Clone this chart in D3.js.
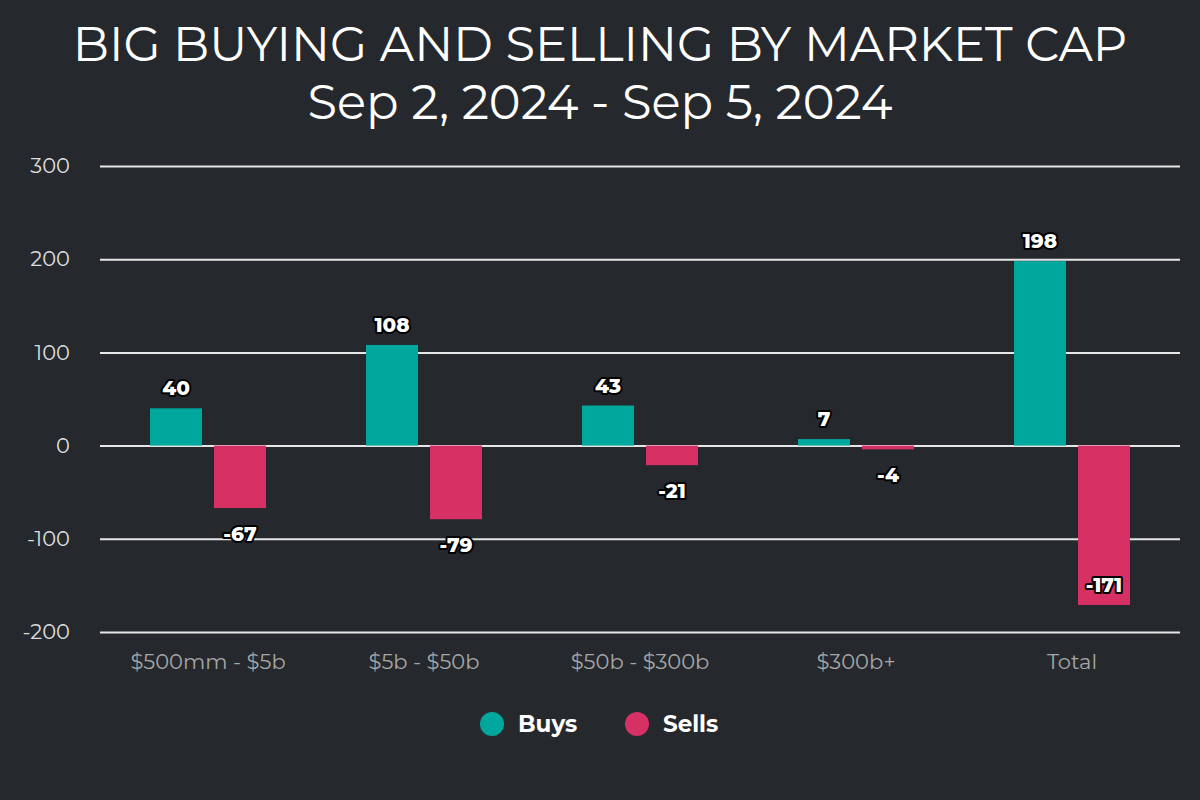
<!DOCTYPE html>
<html><head><meta charset="utf-8">
<script src="https://cdn.jsdelivr.net/npm/d3@7"></script>
<style>
html,body{margin:0;padding:0;background:#25292d;}
svg{display:block;}
</style></head>
<body>
<svg id="chart" width="1200" height="800"></svg>
<script>
const categories = ["$500mm - $5b", "$5b - $50b", "$50b - $300b", "$300b+", "Total"];
const seriesNames = ["Buys", "Sells"];
const buys = [40, 108, 43, 7, 198];
const sells = [-67, -79, -21, -4, -171];
const yTicks = [-200, -100, 0, 100, 200, 300];
const titleLines = ["BIG BUYING AND SELLING BY MARKET CAP", "Sep 2, 2024 - Sep 5, 2024"];
const colors = {Buys: "#00a79d", Sells: "#d63064"};

const font = "Montserrat, 'DejaVu Sans', sans-serif";
const svg = d3.select("#chart");
const W = 1200, H = 800;
const m = {left: 100, right: 20, top: 166, bottom: 168};

svg.append("rect").attr("width", W).attr("height", H).attr("fill", "#25292d");

// title
svg.append("g").selectAll("text").data(titleLines).join("text")
  .attr("x", 600).attr("y", (d, i) => 61 + i * 58)
  .attr("text-anchor", "middle").attr("fill", "#ffffff")
  .attr("font-family", font).attr("font-size", 48)
  .text(d => d);

const y = d3.scaleLinear().domain([-200, 300]).range([632, 166]);
const x0 = d3.scaleBand().domain(categories).range([m.left, W - m.right]).padding(0);
const x1 = d3.scaleBand().domain(seriesNames).range([-58, 58]).paddingInner(0.1875).paddingOuter(0);

// grid + y labels
const yAxis = d3.axisLeft(y).tickValues(yTicks).tickSize(-(W - m.right - m.left)).tickFormat(d => String(d));
const gy = svg.append("g").attr("transform", `translate(${m.left},0)`).call(yAxis);
gy.select(".domain").remove();
gy.selectAll(".tick line").attr("stroke", "#e6e6e6").attr("stroke-width", 2);
gy.selectAll(".tick text").attr("fill", "#dddddd").attr("font-family", font)
  .attr("font-size", 21).attr("x", -30).attr("text-anchor", "end");

// x labels
const xAxis = d3.axisBottom(x0).tickSize(0).tickPadding(0);
const gx = svg.append("g").attr("transform", `translate(0,662)`).call(xAxis);
gx.select(".domain").remove();
gx.selectAll(".tick text").attr("fill", "#a6a6a6").attr("font-family", font)
  .attr("font-size", 21).attr("dy", "0.35em").attr("y", 0);

const data = categories.map((c, i) => ({cat: c, vals: [{s: "Buys", v: buys[i]}, {s: "Sells", v: sells[i]}]}));

const groups = svg.append("g").selectAll("g").data(data).join("g")
  .attr("transform", d => `translate(${x0(d.cat) + x0.bandwidth() / 2},0)`);

groups.selectAll("rect").data(d => d.vals).join("rect")
  .attr("x", d => x1(d.s)).attr("width", x1.bandwidth())
  .attr("y", d => y(Math.max(0, d.v)))
  .attr("height", d => Math.abs(y(d.v) - y(0)))
  .attr("fill", d => colors[d.s]);

groups.selectAll("text").data(d => d.vals).join("text")
  .attr("x", d => x1(d.s) + x1.bandwidth() / 2)
  .attr("y", d => {
    if (d.v >= 0) return y(d.v) - 20;
    const yy = y(d.v) + 26;
    return Math.min(yy, 585);
  })
  .attr("dy", "0.35em")
  .attr("text-anchor", "middle")
  .attr("font-family", font).attr("font-weight", 800).attr("font-size", 20)
  .attr("fill", "#ffffff").attr("stroke", "#000000").attr("stroke-width", 4)
  .attr("stroke-linejoin", "round").attr("paint-order", "stroke")
  .text(d => d.v);

// legend
const legend = svg.append("g").selectAll("g").data(seriesNames).join("g")
  .attr("transform", (d, i) => `translate(${492 + i * 145},724)`);
legend.append("circle").attr("r", 12).attr("fill", d => colors[d]);
legend.append("text").attr("x", 26).attr("dy", "0.35em")
  .attr("font-family", font).attr("font-weight", "bold").attr("font-size", 23)
  .attr("fill", "#ffffff").text(d => d);
</script>
</body></html>
